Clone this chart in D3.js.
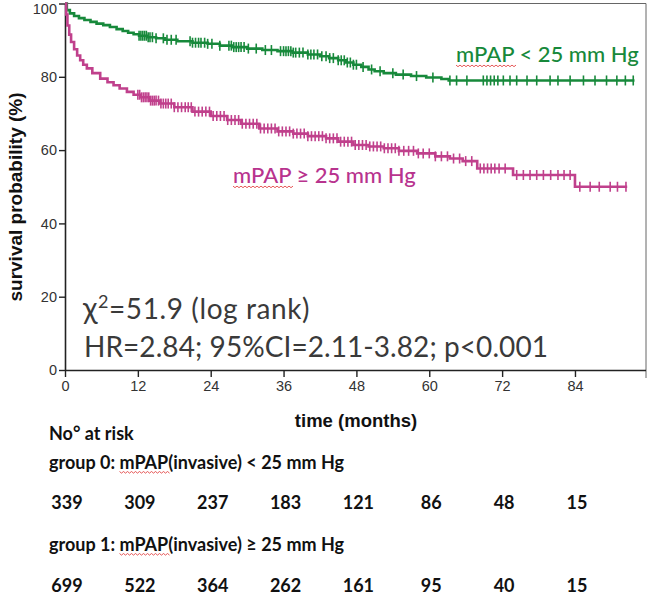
<!DOCTYPE html>
<html><head><meta charset="utf-8">
<script src="https://cdn.jsdelivr.net/npm/d3@7"></script>
<style>body{margin:0;background:#fff}</style>
</head><body><svg id="c" width="650" height="595"></svg>
<script>
// ---------- data ----------
const xTicks = [0, 12, 24, 36, 48, 60, 72, 84];
const yTicks = [0, 20, 40, 60, 80, 100];

// group 0: mPAP < 25 mm Hg (green)
const g0Times = [0,0.3,0.8,1.5,2.3,3.2,4.2,5.2,6.3,7.4,8.5,9.5,10.4,11.3,12.2,13.5,15,16.5,18.5,21,23.5,25.5,27.5,30,32.5,35,37.5,40,42,43.5,45,46.3,47.5,48.8,50,51,52.5,54.5,57,59.5,62,63.2];
const g0Surv  = [100,98.2,97.3,96.6,96.0,95.5,95.0,94.5,94.1,93.6,93.0,92.5,92.0,91.6,91.2,90.8,90.5,90.1,89.7,89.3,89.0,88.5,88.1,87.7,87.3,87.0,86.6,86.1,85.6,85.1,84.5,83.9,83.3,82.7,82.0,81.5,81.0,80.6,80.2,79.8,79.4,79.0];
const g0End = 93.8;
const g0Censor = [12.2,12.5,12.8,13.1,13.4,13.7,14.0,14.4,15.0,16.2,16.8,17.5,18.3,20.6,21.0,21.5,22.0,22.4,23.0,23.5,24.2,25.5,27.0,27.4,27.8,28.2,28.6,29.0,29.5,30.2,31.5,33.0,34.0,35.5,36.0,36.4,36.8,37.2,37.6,38.0,38.6,39.2,40.0,40.5,41.0,41.6,42.3,43.0,43.6,44.2,45.0,45.5,46.0,46.5,47.0,47.5,48.0,49.1,50.5,51.9,54.0,55.7,57.9,60.6,63.4,64.5,66.2,68.9,69.5,70.1,70.7,71.3,72.2,73.3,74.4,76.1,77.7,79.9,81.2,83.2,85.4,87.3,89.2,90.9,92.3,93.6];

// group 1: mPAP >= 25 mm Hg (magenta)
const g1Times = [0,0.2,0.4,0.7,1.0,1.5,2.0,2.5,3.0,3.6,4.5,5.8,7.0,8.0,9.0,10.2,11.3,12.4,14.0,15.7,18.0,21.0,24.0,26.7,29.0,32.0,35.0,37.6,40.0,43.0,45.0,47.5,50.0,52.5,55.0,58.0,61.0,63.4,65.5,67.9,73.8,84.0];
const g1Surv  = [100,97,94,91.5,89.5,87.5,85.8,84.5,83.3,82.3,81.0,79.5,78.5,77.7,76.8,75.9,75.1,74.4,73.5,72.7,71.7,70.5,69.3,68.2,67.2,65.9,65.1,64.5,63.8,63.2,62.3,61.4,61.0,60.5,59.8,59.1,58.3,57.7,57.0,55.0,53.2,50.0];
const g1End = 92.6;
const g1Censor = [12.0,12.3,12.6,12.9,13.2,13.5,13.8,14.1,14.4,14.7,15.0,15.4,15.8,16.2,16.6,17.0,17.5,18.0,18.6,19.2,19.8,20.3,20.8,21.4,22.0,22.6,23.2,23.8,24.4,25.0,25.6,26.2,26.8,27.4,28.0,28.6,29.2,29.8,30.4,31.0,31.6,32.2,32.8,33.4,34.0,34.6,35.2,35.8,36.4,37.0,37.6,38.2,38.8,39.4,40.0,40.6,41.2,41.8,42.4,43.0,43.6,44.2,44.8,45.4,46.0,46.6,47.2,47.8,48.4,49.0,49.6,50.2,50.8,51.4,52.0,52.6,53.2,53.8,54.4,55.0,55.8,56.6,57.4,58.2,59.0,60.0,61.0,62.0,63.0,64.0,65.0,66.0,67.0,68.4,69.0,69.6,70.2,70.8,71.5,72.5,74.4,75.5,76.6,77.7,78.8,80.0,81.2,82.2,83.2,84.8,86.5,88.0,89.8,91.0,92.4];

const risk0 = [339, 309, 237, 183, 121, 86, 48, 15];
const risk1 = [699, 522, 364, 262, 161, 95, 40, 15];

// ---------- drawing ----------
const svg = d3.select("#c");
const GREEN = "#17893b", MAG = "#c0408c";
const pL = 65, pR = 646, pT = 3.5, pB = 370;
const x = d3.scaleLinear().domain([0, 95.7]).range([pL, pR]);
const y = d3.scaleLinear().domain([0, 100]).range([pB, pT]);

// frame
svg.append("line").attr("x1", pL).attr("x2", pR).attr("y1", pT).attr("y2", pT)
  .attr("stroke", "#666").attr("stroke-width", 1);
svg.append("line").attr("x1", pR).attr("x2", pR).attr("y1", pT).attr("y2", pB + 8)
  .attr("stroke", "#666").attr("stroke-width", 1);

// axes
const xAxis = svg.append("g").attr("transform", `translate(0,${pB})`)
  .call(d3.axisBottom(x).tickValues(xTicks).tickSize(7).tickSizeOuter(0).tickPadding(4));
const yAxis = svg.append("g").attr("transform", `translate(${pL},0)`)
  .call(d3.axisLeft(y).tickValues(yTicks).tickSize(6).tickSizeOuter(0).tickPadding(2));
[xAxis, yAxis].forEach(a => {
  a.select(".domain").attr("stroke", "#222").attr("stroke-width", 1.6);
  a.selectAll(".tick line").attr("stroke", "#222").attr("stroke-width", 1.4);
  a.selectAll(".tick text").attr("fill", "#333")
    .style("font-family", "'Liberation Sans', Arial, sans-serif").style("font-size", "14.5px");
});
xAxis.select(".domain").attr("d", `M${pL},0.5H${pR}`);
yAxis.selectAll(".tick text").filter(d => d === 100).attr("dy", "0.72em");

// axis titles
svg.append("text").attr("x", 356).attr("y", 427).attr("text-anchor", "middle")
  .style("font-family", "'Liberation Sans', Arial, sans-serif").style("font-weight", "bold")
  .style("font-size", "18.5px").attr("fill", "#111").text("time (months)");
svg.append("text").attr("transform", "translate(22,197) rotate(-90)").attr("text-anchor", "middle")
  .style("font-family", "'Liberation Sans', Arial, sans-serif").style("font-weight", "bold")
  .style("font-size", "19px").attr("fill", "#111").text("survival probability (%)");

// curves
function stepPts(times, surv, end) {
  const pts = times.map((t, i) => [t, surv[i]]);
  pts.push([end, surv[surv.length - 1]]);
  return pts;
}
function survAt(times, surv, t) {
  const i = d3.bisectRight(times, t) - 1;
  return surv[Math.max(0, i)];
}
const line = d3.line().x(d => x(d[0])).y(d => y(d[1])).curve(d3.curveStepAfter);
const groups = [
  {times: g0Times, surv: g0Surv, end: g0End, cens: g0Censor, color: GREEN},
  {times: g1Times, surv: g1Surv, end: g1End, cens: g1Censor, color: MAG}
];
groups.forEach(gr => {
  svg.append("path").datum(stepPts(gr.times, gr.surv, gr.end)).attr("d", line)
    .attr("fill", "none").attr("stroke", gr.color).attr("stroke-width", 2.6);
  svg.append("g").selectAll("line").data(gr.cens).join("line")
    .attr("x1", d => x(d)).attr("x2", d => x(d))
    .attr("y1", d => y(survAt(gr.times, gr.surv, d)) - 5)
    .attr("y2", d => y(survAt(gr.times, gr.surv, d)) + 5)
    .attr("stroke", gr.color).attr("stroke-width", 1.6);
});

// wavy red underline helper
function squiggle(x0, x1, yy) {
  let d = `M${x0},${yy}`;
  for (let xx = x0, k = 0; xx < x1; xx += 2, k++) d += `L${xx + 2},${yy + (k % 2 ? 0 : 1.6)}`;
  svg.append("path").attr("d", d).attr("fill", "none").attr("stroke", "#e03030").attr("stroke-width", 0.8);
}
function labelWithMPAP(xx, yy, first, rest, color, size, weight) {
  const t = svg.append("text").attr("x", xx).attr("y", yy).attr("fill", color)
    .style("font-family", "Lato, 'Open Sans', sans-serif").style("font-size", size + "px")
    .style("font-weight", weight);
  if (first) t.append("tspan").text(first);
  const m = t.append("tspan").text("mPAP");
  t.append("tspan").text(rest);
  const bb = m.node().getBBox();
  squiggle(bb.x, bb.x + bb.width, yy + size * 0.14);
  return t;
}

// curve labels
labelWithMPAP(456, 62, "", " < 25 mm Hg", GREEN, 22, 500);
labelWithMPAP(233, 183, "", " \u2265 25 mm Hg", "#b8338e", 22, 500);

// statistics
function fitWidth(sel, target) {
  const n = sel.text().length;
  const w = sel.node().getComputedTextLength();
  sel.style("letter-spacing", ((target - w) / n) + "px");
}
const stat = svg.append("g").attr("fill", "#3a3a3a")
  .style("font-family", "Lato, 'Open Sans', sans-serif").style("font-size", "28px");
const s1 = stat.append("text").attr("x", 83).attr("y", 319).style("letter-spacing", "0.6px");
s1.append("tspan").style("font-size", "30px").text("\u03c7");
s1.append("tspan").attr("dy", -11).style("font-size", "18px").text("2");
s1.append("tspan").attr("dy", 11).text("=51.9 (log rank)");
const s2 = stat.append("text").attr("x", 84).attr("y", 357).text("HR=2.84; 95%CI=2.11-3.82; p<0.001");
fitWidth(s2, 464);

// numbers at risk
const tf = "Lato, 'Open Sans', sans-serif";
svg.append("text").attr("x", 49).attr("y", 440).attr("fill", "#111")
  .style("font-family", tf).style("font-size", "18px").style("font-weight", "bold").text("No\u00b0 at risk");
labelWithMPAP(49, 469, "group 0: ", "(invasive) < 25 mm Hg", "#111", 18, "bold");
labelWithMPAP(49, 551, "group 1: ", "(invasive) \u2265 25 mm Hg", "#111", 18, "bold");
const rx = d => x(d) + 2;
[[risk0, 509], [risk1, 592]].forEach(([arr, yy]) => {
  svg.append("g").selectAll("text").data(arr).join("text")
    .attr("x", (d, i) => rx(xTicks[i])).attr("y", yy).attr("text-anchor", "middle")
    .attr("fill", "#111").style("font-family", tf).style("font-size", "18px").style("font-weight", "bold")
    .text(d => d);
});
</script>
</body></html>
